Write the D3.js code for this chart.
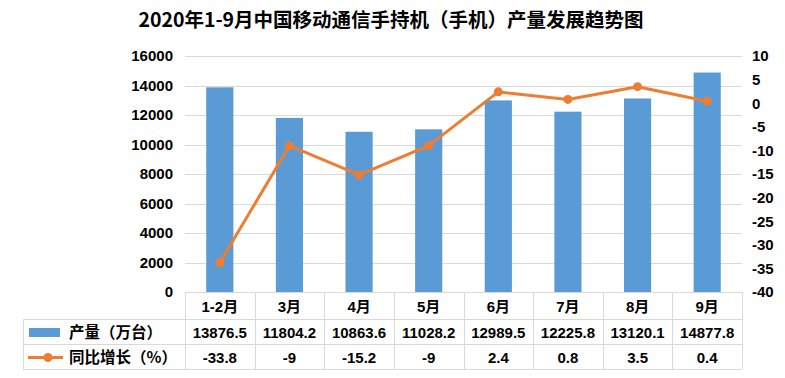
<!DOCTYPE html>
<html>
<head>
<meta charset="utf-8">
<script src="https://d3js.org/d3.v7.min.js"></script>
<style>
  body { margin: 0; background: #fff; }
  text { font-family: "Liberation Sans", Arial, "Noto Sans CJK SC", sans-serif; }
</style>
</head>
<body>
<div id="chart"></div>
<script>
// data
var months = ["1-2月", "3月", "4月", "5月", "6月", "7月", "8月", "9月"];
var output = [13876.5, 11804.2, 10863.6, 11028.2, 12989.5, 12225.8, 13120.1, 14877.8];
var growth = [-33.8, -9, -15.2, -9, 2.4, 0.8, 3.5, 0.4];
var leftTicks = [0, 2000, 4000, 6000, 8000, 10000, 12000, 14000, 16000];
var rightTicks = [-40, -35, -30, -25, -20, -15, -10, -5, 0, 5, 10];
var seriesNames = ["产量（万台）", "同比增长（%）"];

var W = 785, H = 378;
var pLeft = 185, pRight = 742, pTop = 56, pBottom = 292;
var blue = "#5B9BD5", orange = "#ED7D31", grid = "#D9D9D9";

// plain hyphen for negatives, like the original
var fmt = function(d) { return String(d); };

var svg = d3.select("#chart").append("svg")
  .attr("width", W).attr("height", H);

// title
svg.append("text")
  .attr("x", 391).attr("y", 27)
  .attr("text-anchor", "middle")
  .style("font-family", "'Noto Sans CJK SC', sans-serif")
  .style("font-size", "19.5px")
  .style("font-weight", "bold")
  .text("2020年1-9月中国移动通信手持机（手机）产量发展趋势图");

// scales
var x = d3.scaleBand().domain(months).range([pLeft, pRight]).paddingInner(0.61).paddingOuter(0.305);
var xc = d3.scaleBand().domain(months).range([pLeft, pRight]);
var y = d3.scaleLinear().domain([0, 16000]).range([pBottom, pTop]);
var y2 = d3.scaleLinear().domain([-40, 10]).range([pBottom, pTop]);

// gridlines
svg.append("g").selectAll("line")
  .data(leftTicks.slice(1))
  .enter().append("line")
  .attr("x1", pLeft).attr("x2", pRight)
  .attr("y1", function(d) { return Math.round(y(d)) + 0.5; })
  .attr("y2", function(d) { return Math.round(y(d)) + 0.5; })
  .attr("stroke", grid).attr("stroke-width", 1);

// left axis
var ax = svg.append("g")
  .attr("transform", "translate(" + pLeft + ",0)")
  .call(d3.axisLeft(y).tickValues(leftTicks).tickFormat(fmt).tickSize(0).tickPadding(12));
ax.select(".domain").remove();
ax.selectAll("text")
  .style("font-size", "15px").style("font-weight", "bold").attr("fill", "#000");

// right axis
var ax2 = svg.append("g")
  .attr("transform", "translate(" + pRight + ",0)")
  .call(d3.axisRight(y2).tickValues(rightTicks).tickFormat(fmt).tickSize(0).tickPadding(10));
ax2.select(".domain").remove();
ax2.selectAll("text")
  .style("font-size", "15px").style("font-weight", "bold").attr("fill", "#000");

// bars
svg.append("g").selectAll("rect")
  .data(output)
  .enter().append("rect")
  .attr("x", function(d, i) { return x(months[i]); })
  .attr("width", x.bandwidth())
  .attr("y", function(d) { return y(d); })
  .attr("height", function(d) { return pBottom - y(d); })
  .attr("fill", blue);

// line
var line = d3.line()
  .x(function(d, i) { return xc(months[i]) + xc.bandwidth() / 2; })
  .y(function(d) { return y2(d); });

svg.append("path")
  .datum(growth)
  .attr("d", line)
  .attr("fill", "none")
  .attr("stroke", orange)
  .attr("stroke-width", 3)
  .attr("stroke-linejoin", "round");

svg.append("g").selectAll("circle")
  .data(growth)
  .enter().append("circle")
  .attr("cx", function(d, i) { return xc(months[i]) + xc.bandwidth() / 2; })
  .attr("cy", function(d) { return y2(d); })
  .attr("r", 4.5)
  .attr("fill", orange);

// data table
var tLeft = 23, r0 = pBottom, r1 = 319, r2 = 344, r3 = 369;
var tb = svg.append("g");
var bc = "#D9D9D9";

// horizontal lines
tb.append("line").attr("x1", pLeft).attr("x2", pRight).attr("y1", r0 + 0.5).attr("y2", r0 + 0.5).attr("stroke", bc);
[r1, r2, r3].forEach(function(r) {
  tb.append("line").attr("x1", tLeft).attr("x2", pRight).attr("y1", r + 0.5).attr("y2", r + 0.5).attr("stroke", bc);
});
// vertical lines
tb.append("line").attr("x1", tLeft + 0.5).attr("x2", tLeft + 0.5).attr("y1", r1).attr("y2", r3).attr("stroke", bc);
months.concat(["end"]).forEach(function(m, i) {
  var xx = Math.round(i < months.length ? xc(m) : pRight);
  tb.append("line").attr("x1", xx + 0.5).attr("x2", xx + 0.5).attr("y1", r0).attr("y2", r3).attr("stroke", bc);
});

// cell text
function cellRow(vals, cy) {
  tb.append("g").selectAll("text")
    .data(vals)
    .enter().append("text")
    .attr("x", function(d, i) { return xc(months[i]) + xc.bandwidth() / 2; })
    .attr("y", cy)
    .attr("dy", "0.35em")
    .attr("text-anchor", "middle")
    .style("font-size", "15px").style("font-weight", "bold")
    .text(function(d) { return d; });
}
cellRow(months, (r0 + r1) / 2 + 1);
cellRow(output.map(function(d) { return d.toFixed(1); }), (r1 + r2) / 2 + 1);
cellRow(growth.map(fmt), (r2 + r3) / 2 + 1);

// legend keys
tb.append("rect").attr("x", 29).attr("y", 328).attr("width", 31).attr("height", 9).attr("fill", blue);
tb.append("line").attr("x1", 28).attr("x2", 63).attr("y1", 357.5).attr("y2", 357.5)
  .attr("stroke", orange).attr("stroke-width", 3);
tb.append("circle").attr("cx", 48).attr("cy", 357.5).attr("r", 4.5).attr("fill", orange);

tb.selectAll(".lg")
  .data(seriesNames)
  .enter().append("text")
  .attr("x", 69)
  .attr("y", function(d, i) { return i === 0 ? (r1 + r2) / 2 + 1 : (r2 + r3) / 2 + 1; })
  .attr("dy", "0.35em")
  .style("font-family", "'Noto Sans CJK SC', sans-serif")
  .style("font-size", "15.5px").style("font-weight", "bold")
  .text(function(d) { return d; });
</script>
</body>
</html>
